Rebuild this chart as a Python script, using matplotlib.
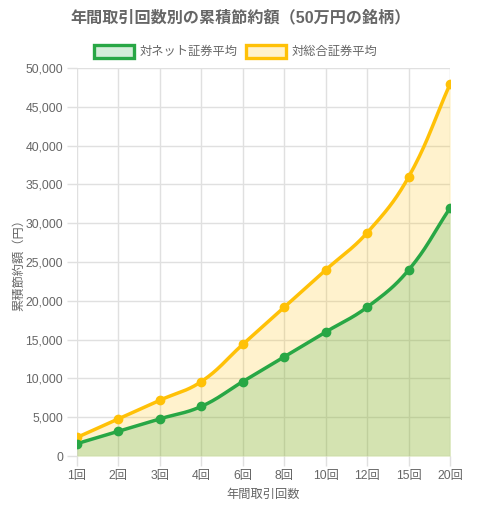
import numpy as np
import matplotlib.pyplot as plt
from matplotlib.patches import Rectangle

plt.rcParams['font.family'] = ['Liberation Sans', 'Noto Sans CJK JP']

labels = ['1回', '2回', '3回', '4回', '6回', '8回', '10回', '12回', '15回', '20回']
net_avg = [1600, 3200, 4800, 6400, 9600, 12800, 16000, 19200, 24000, 32000]
sogo_avg = [2400, 4800, 7200, 9600, 14400, 19200, 24000, 28800, 36000, 48000]

GREEN = '#28a745'
YELLOW = '#ffc107'
TXT = '#666666'

# pixel scale for the spline (x step ~41.4px, 50000 -> 388px)
SX, SY = 41.4, 388 / 50000.0


def smooth(xs, ys, tension=0.4, n=30):
    px = np.array(xs, float) * SX
    py = np.array(ys, float) * SY
    m = len(px)
    cpl, cpr = [], []
    for i in range(m):
        p0 = (px[max(i - 1, 0)], py[max(i - 1, 0)])
        p1 = (px[i], py[i])
        p2 = (px[min(i + 1, m - 1)], py[min(i + 1, m - 1)])
        d01 = np.hypot(p1[0] - p0[0], p1[1] - p0[1])
        d12 = np.hypot(p2[0] - p1[0], p2[1] - p1[1])
        tot = d01 + d12
        s01 = d01 / tot if tot else 0
        s12 = d12 / tot if tot else 0
        fa, fb = tension * s01, tension * s12
        cpl.append((p1[0] - fa * (p2[0] - p0[0]), p1[1] - fa * (p2[1] - p0[1])))
        cpr.append((p1[0] + fb * (p2[0] - p0[0]), p1[1] + fb * (p2[1] - p0[1])))
    outx, outy = [], []
    t = np.linspace(0, 1, n)
    for i in range(m - 1):
        a = np.array([px[i], py[i]])
        b = np.array(cpr[i])
        c = np.array(cpl[i + 1])
        d = np.array([px[i + 1], py[i + 1]])
        pts = ((1 - t) ** 3)[:, None] * a + (3 * (1 - t) ** 2 * t)[:, None] * b \
            + (3 * (1 - t) * t ** 2)[:, None] * c + (t ** 3)[:, None] * d
        outx.extend(pts[:, 0] / SX)
        outy.extend(pts[:, 1] / SY)
    return np.array(outx), np.array(outy)


fig = plt.figure(figsize=(4.81, 5.2), dpi=100)
ax = fig.add_axes([0.160, 0.123, 0.776, 0.746])

x = np.arange(len(labels))
for vals, col in [(sogo_avg, YELLOW), (net_avg, GREEN)]:
    sx, sy = smooth(x, vals)
    ax.fill_between(sx, 0, sy, color=col, alpha=0.2, linewidth=0)
for vals, col in [(sogo_avg, YELLOW), (net_avg, GREEN)]:
    sx, sy = smooth(x, vals)
    ax.plot(sx, sy, color=col, linewidth=2.5, solid_capstyle='round', zorder=3)
    ax.plot(x, vals, 'o', color=col, markersize=6, zorder=4)

ax.set_xlim(0, len(labels) - 1)
ax.set_ylim(0, 50000)
ax.set_xticks(x)
ax.set_xticklabels(labels)
ax.set_yticks(np.arange(0, 50001, 5000))
ax.set_yticklabels([f'{v:,}' for v in range(0, 50001, 5000)])
ax.grid(True, color='#e0e0e0', linewidth=1)
ax.set_axisbelow(True)
for s in ax.spines.values():
    s.set_visible(False)
ax.tick_params(axis='both', colors='#e0e0e0', labelcolor=TXT, labelsize=8.8,
               length=7, width=1, pad=3)

ax.set_xlabel('年間取引回数', color=TXT, fontsize=8.8, labelpad=5)
ax.set_ylabel('累積節約額（円）', color=TXT, fontsize=8.8, labelpad=0)

fig.text(0.5, 0.967, '年間取引回数別の累積節約額（50万円の銘柄）', ha='center', va='center',
         fontsize=11.6, fontweight='bold', color=TXT)

# legend boxes drawn in figure pixels like the original
W, H = 481, 520
items = [('対ネット証券平均', GREEN, 94), ('対総合証券平均', YELLOW, 246)]
for text, col, bx in items:
    fig.patches.append(Rectangle((bx / W, 1 - 58 / H), 40 / W, 13 / H, transform=fig.transFigure,
                                 facecolor=col, alpha=0.2, edgecolor='none'))
    fig.patches.append(Rectangle((bx / W, 1 - 58 / H), 40 / W, 13 / H, transform=fig.transFigure,
                                 facecolor='none', edgecolor=col, linewidth=2.4))
    fig.text((bx + 46) / W, 1 - 51.5 / H, text, ha='left', va='center', fontsize=8.8, color=TXT)

fig.savefig('out.png', dpi=100, facecolor='white')
